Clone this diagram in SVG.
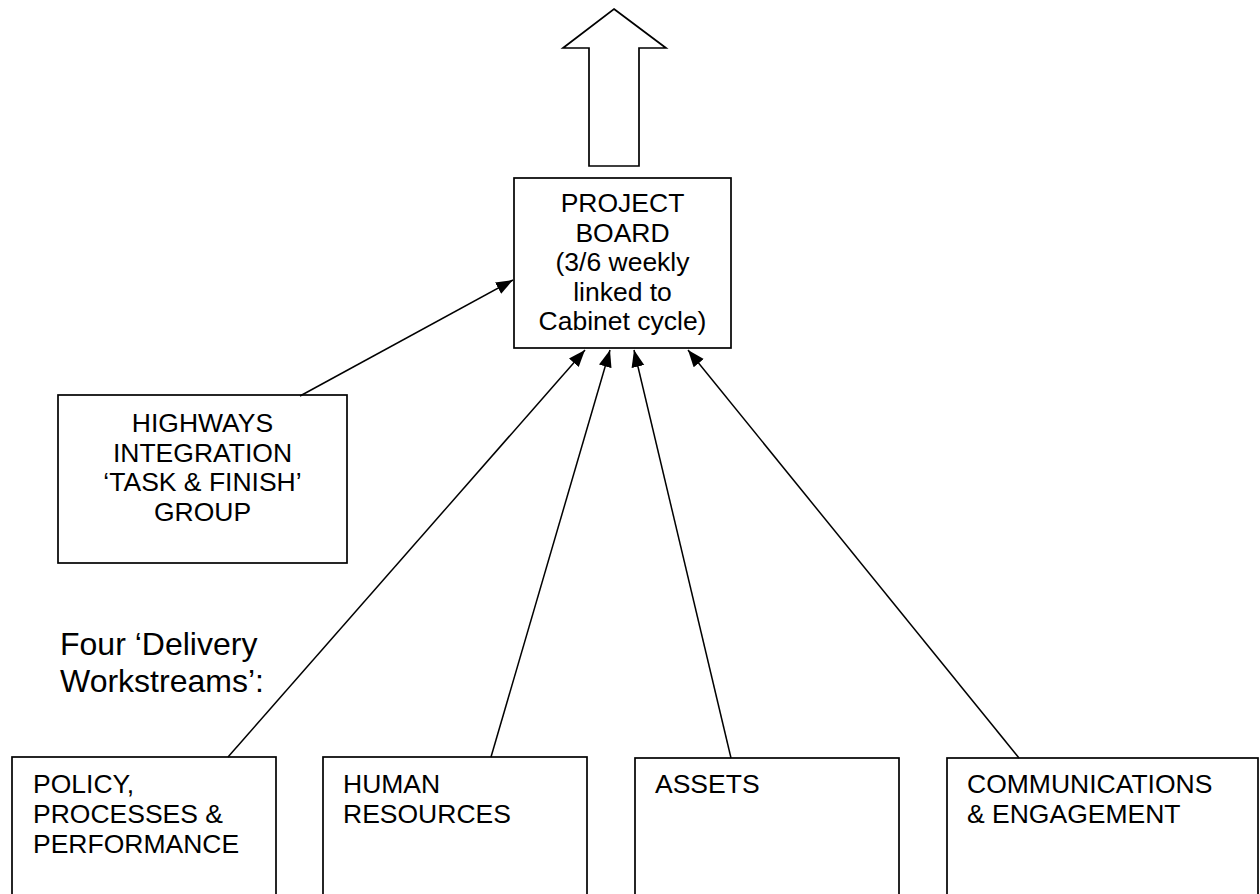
<svg xmlns="http://www.w3.org/2000/svg" width="1260" height="894" viewBox="0 0 1260 894">
<style>
.box{fill:#fff;stroke:#000;stroke-width:1.7}
.t{font-family:"Liberation Sans",Arial,sans-serif;font-size:26.5px;fill:#000}
.c{text-anchor:middle}
.con{stroke:#000;stroke-width:1.5;fill:none;marker-end:url(#ah)}
</style>
<defs>
<marker id="ah" markerUnits="userSpaceOnUse" markerWidth="18" markerHeight="14" refX="17" refY="6.5" orient="auto">
<path d="M0,0 L17,6.5 L0,13 z" fill="#000"/>
</marker>
</defs>
<rect width="1260" height="894" fill="#fff"/>
<g id="up-arrow">
<polygon class="box" points="614,9 666,48 639,48 639,166 589,166 589,48 563,48"/>
</g>
<g id="project-board">
<rect class="box" x="514" y="178" width="217" height="170"/>
<text class="t c" x="622.5" y="212">PROJECT</text>
<text class="t c" x="622.5" y="241.5">BOARD</text>
<text class="t c" x="622.5" y="271">(3/6 weekly</text>
<text class="t c" x="622.5" y="300.5">linked to</text>
<text class="t c" x="622.5" y="330">Cabinet cycle)</text>
</g>
<g id="highways">
<rect class="box" x="58" y="395" width="289" height="168"/>
<text class="t c" x="202.5" y="432">HIGHWAYS</text>
<text class="t c" x="202.5" y="461.5">INTEGRATION</text>
<text class="t c" x="202.5" y="491">‘TASK &amp; FINISH’</text>
<text class="t c" x="202.5" y="520.5">GROUP</text>
</g>
<g id="workstreams-label">
<text class="t" style="font-size:32px" x="60" y="655">Four ‘Delivery</text>
<text class="t" style="font-size:32px" x="60" y="692">Workstreams’:</text>
</g>
<g id="policy">
<rect class="box" x="12" y="757" width="264" height="150"/>
<text class="t" x="33" y="793">POLICY,</text>
<text class="t" x="33" y="823">PROCESSES &amp;</text>
<text class="t" x="33" y="853">PERFORMANCE</text>
</g>
<g id="hr">
<rect class="box" x="323" y="757" width="264" height="150"/>
<text class="t" x="343" y="793">HUMAN</text>
<text class="t" x="343" y="823">RESOURCES</text>
</g>
<g id="assets">
<rect class="box" x="635" y="758" width="264" height="150"/>
<text class="t" x="655" y="793">ASSETS</text>
</g>
<g id="comms">
<rect class="box" x="947" y="758" width="311" height="150"/>
<text class="t" x="967" y="793">COMMUNICATIONS</text>
<text class="t" x="967" y="823">&amp; ENGAGEMENT</text>
</g>
<g id="connectors">
<line class="con" x1="300" y1="396" x2="513" y2="280"/>
<line class="con" x1="228" y1="757" x2="585" y2="350"/>
<line class="con" x1="491" y1="757" x2="610" y2="350"/>
<line class="con" x1="731" y1="758" x2="634" y2="350"/>
<line class="con" x1="1019" y1="758" x2="688" y2="350"/>
</g>
</svg>
